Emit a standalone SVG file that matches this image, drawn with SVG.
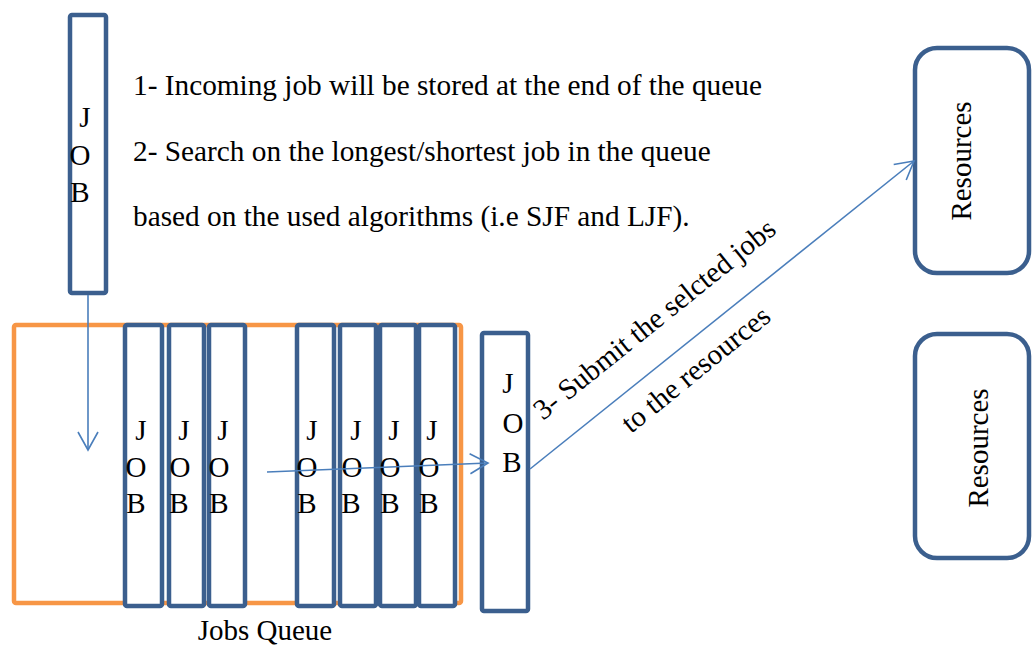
<svg xmlns="http://www.w3.org/2000/svg" width="1033" height="648" viewBox="0 0 1033 648">
<style>
text{font-family:"Liberation Serif","Times New Roman",serif;font-size:29px;fill:#000}
.note{font-size:29.3px}
.job{fill:#fff;stroke:#3B5F8E;stroke-width:4.5}
.res{fill:#fff;stroke:#3B5F8E;stroke-width:4.5}
.queue{fill:#fff;stroke:#F79646;stroke-width:4.5}
.c{fill:none;stroke:#4A7EBB;stroke-width:1.6;marker-end:url(#ah)}
.m{text-anchor:middle}
</style>
<defs>
<marker id="ah" markerUnits="userSpaceOnUse" viewBox="-20 -12 24 24" markerWidth="24" markerHeight="24" refX="0" refY="0" orient="auto">
<path d="M-18,-10 L0,0 L-18,10" fill="none" stroke="#4A7EBB" stroke-width="1.6"/>
</marker>
</defs>
<g id="queue">
<rect class="queue" x="14" y="325" width="447" height="278" rx="2"/>
<text class="m" x="265" y="640">Jobs Queue</text>
</g>
<g id="job-in">
<rect class="job" x="70" y="15" width="36" height="278" rx="2"/>
<text class="m" x="85" y="127">J</text><text class="m" x="80" y="165">O</text><text class="m" x="80" y="202">B</text>
</g>
<g id="q1"><rect class="job" x="125" y="325" width="37" height="281" rx="2"/>
<text class="m" x="141" y="440">J</text><text class="m" x="136" y="477">O</text><text class="m" x="136" y="513">B</text></g>
<g id="q2"><rect class="job" x="169" y="325" width="35" height="281" rx="2"/>
<text class="m" x="184" y="440">J</text><text class="m" x="180" y="477">O</text><text class="m" x="179" y="513">B</text></g>
<g id="q3"><rect class="job" x="209" y="325" width="36" height="281" rx="2"/>
<text class="m" x="223" y="440">J</text><text class="m" x="219" y="477">O</text><text class="m" x="219" y="513">B</text></g>
<g id="q4"><rect class="job" x="297" y="325" width="37" height="281" rx="2"/>
<text class="m" x="312" y="440">J</text><text class="m" x="307" y="477">O</text><text class="m" x="307" y="513">B</text></g>
<g id="q5"><rect class="job" x="340" y="325" width="36" height="281" rx="2"/>
<text class="m" x="356" y="440">J</text><text class="m" x="352" y="477">O</text><text class="m" x="351" y="513">B</text></g>
<g id="q6"><rect class="job" x="380" y="325" width="36" height="281" rx="2"/>
<text class="m" x="394" y="440">J</text><text class="m" x="390" y="477">O</text><text class="m" x="390" y="513">B</text></g>
<g id="q7"><rect class="job" x="419" y="325" width="36" height="281" rx="2"/>
<text class="m" x="432" y="440">J</text><text class="m" x="429" y="477">O</text><text class="m" x="429" y="513">B</text></g>
<g id="job-out"><rect class="job" x="482" y="333" width="46" height="278" rx="2"/>
<text class="m" x="508" y="393">J</text><text class="m" x="513" y="433">O</text><text class="m" x="512" y="472">B</text></g>
<g id="res1"><rect class="res" x="915" y="48" width="114" height="225" rx="22"/>
<text class="m" transform="translate(971,161) rotate(-90)">Resources</text></g>
<g id="res2"><rect class="res" x="915" y="334" width="114" height="224" rx="22"/>
<text class="m" transform="translate(988,448) rotate(-90)">Resources</text></g>
<g id="notes">
<text class="note" x="133" y="95">1- Incoming job will be stored at the end of the queue</text>
<text class="note" x="133" y="161">2- Search on the longest/shortest job in the queue</text>
<text class="note" x="133" y="226">based on the used algorithms (i.e SJF and LJF).</text>
</g>
<g id="connectors">
<line class="c" x1="88" y1="295" x2="88" y2="450"/>
<line class="c" x1="267" y1="472" x2="488" y2="463"/>
<line class="c" x1="530" y1="469" x2="914" y2="161"/>
<text transform="translate(543,421) rotate(-38.8)">3- Submit the selcted jobs</text>
<text transform="translate(631,434) rotate(-39)">to the resources</text>
</g>
</svg>
